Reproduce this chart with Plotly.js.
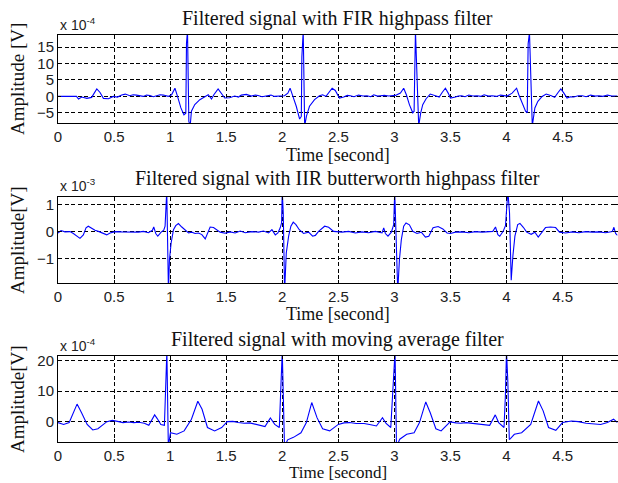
<!DOCTYPE html>
<html>
<head>
<meta charset="utf-8">
<script src="https://cdn.plot.ly/plotly-3.0.1.min.js"></script>
<style>html,body{margin:0;padding:0;background:#fff;}#chart{width:618px;height:483px;}</style>
</head>
<body>
<div id="chart"></div>
<script>
// ---- Data ----
// Time axis ticks
var timeTicks = [0, 0.5, 1, 1.5, 2, 2.5, 3, 3.5, 4, 4.5];
var timeTickText = ["0", "0.5", "1", "1.5", "2", "2.5", "3", "3.5", "4", "4.5"];

// Panel 1: FIR highpass filter (values in units of 1e-4 V)
var firT = [0,0.165,0.183,0.212,0.257,0.3,0.346,0.375,0.405,0.45,0.494,0.53,0.568,0.6,0.64,0.67,0.7,0.73,0.76,0.79,0.82,0.85,0.88,0.91,0.94,0.983,1.013,1.043,1.066,1.096,1.123,1.14,1.146,1.155,1.167,1.179,1.19,1.22,1.265,1.31,1.34,1.369,1.39,1.428,1.458,1.487,1.53,1.576,1.61,1.635,1.68,1.724,1.76,1.784,1.82,1.843,1.87,1.9,1.93,1.96,2.02,2.05,2.07,2.095,2.125,2.155,2.17,2.175,2.187,2.2,2.216,2.243,2.288,2.332,2.36,2.39,2.42,2.445,2.473,2.51,2.548,2.58,2.607,2.64,2.68,2.72,2.756,2.79,2.816,2.85,2.875,2.91,2.95,3.009,3.054,3.083,3.107,3.134,3.164,3.176,3.188,3.217,3.235,3.253,3.283,3.32,3.366,3.4,3.426,3.455,3.48,3.5,3.545,3.57,3.6,3.63,3.664,3.7,3.738,3.77,3.8,3.84,3.872,3.91,3.946,4.006,4.05,4.09,4.11,4.14,4.17,4.185,4.193,4.205,4.23,4.253,4.28,4.318,4.354,4.4,4.43,4.46,4.485,4.512,4.54,4.57,4.6,4.64,4.676,4.71,4.75,4.79,4.824,4.86,4.9,4.94,4.973,4.99];
var firV = [0,0,-0.8,-0.2,-0.6,-0.3,2.3,1.2,-0.6,-0.7,0,-0.2,0.4,0.7,0.2,0.5,0.4,0.1,0,0.4,0.3,-0.1,0.1,0.5,0.4,0,0.5,2.5,0,-3.5,-5.6,-5.1,16.2,20,-7.6,-9,-4.5,-2.5,-1,0,0.5,-0.8,0.5,2.3,1,-0.5,-0.4,0.1,-0.2,0.4,0.6,0.1,0.4,0.3,-0.1,0,0.3,0.4,0,0.1,0.2,1,2.5,0,-3,-6.9,-6.1,12,20,-9,-6,-3,-1,0.2,0.5,0,1.2,2.5,1.8,-0.5,-0.2,0.3,0.2,-0.1,0.4,0.1,0.2,-0.1,0.5,0.1,0.2,0.3,0.1,0.3,1,2.5,0.5,-2.5,-5,-4.5,20,-9,-5,-2.5,-0.7,0.7,0.2,-0.2,1.2,2.5,1,-0.5,-0.2,0.1,0.2,-0.1,0.4,0.1,0.2,0,0.5,0.1,0.2,0,0.4,0.1,1,2.5,0.5,-2,-4.5,-5,16,19.5,-9,-3.5,-1.5,0,0.7,0.2,-0.3,1.2,2.3,1,-0.5,-0.1,-0.2,0.2,0.2,-0.1,0.4,0.1,0.2,0,0.4,0.1,0.2,0.1];

// Panel 2: IIR butterworth highpass filter (values in units of 1e-3 V)
var iirT = [0,0.027,0.062,0.107,0.137,0.167,0.196,0.226,0.25,0.27,0.3,0.33,0.366,0.405,0.435,0.464,0.509,0.568,0.658,0.717,0.762,0.806,0.842,0.854,0.872,0.89,0.92,0.943,0.955,0.961,0.97,0.985,0.994,1.009,1.03,1.05,1.074,1.104,1.134,1.164,1.193,1.223,1.253,1.283,1.313,1.336,1.357,1.387,1.417,1.446,1.491,1.536,1.58,1.625,1.67,1.729,1.789,1.833,1.878,1.908,1.938,1.961,1.982,1.994,2.0,2.009,2.021,2.036,2.057,2.077,2.098,2.122,2.152,2.19,2.235,2.271,2.295,2.324,2.378,2.414,2.458,2.503,2.533,2.592,2.652,2.71,2.77,2.83,2.89,2.905,2.92,2.943,2.973,2.994,3.003,3.03,3.045,3.062,3.083,3.104,3.134,3.164,3.202,3.24,3.277,3.307,3.345,3.39,3.432,3.47,3.5,3.545,3.604,3.664,3.723,3.783,3.842,3.878,3.902,3.923,3.94,3.97,3.991,4.003,4.012,4.027,4.042,4.057,4.075,4.1,4.12,4.15,4.18,4.22,4.253,4.283,4.313,4.348,4.393,4.438,4.473,4.527,4.586,4.646,4.705,4.765,4.824,4.884,4.943,4.958,4.973,4.99];
var iirV = [-0.05,0.04,-0.01,0,-0.07,-0.15,-0.25,-0.12,0.14,0.2,0.11,0.05,0,-0.07,-0.12,-0.05,0,-0.01,-0.01,-0.02,0.01,-0.04,0.05,0.17,-0.07,-0.17,-0.02,0.05,0.2,1.06,1.5,-2.2,-1.04,-0.42,0.07,0.22,0.3,0.17,0.05,-0.05,-0.02,-0.07,-0.05,-0.11,-0.27,-0.02,0.17,0.15,0.05,-0.02,-0.06,-0.01,-0.05,0.02,-0.04,0,-0.02,0.02,-0.05,0.07,-0.12,-0.05,0.14,0.32,1.5,0.7,-2.2,-0.79,-0.17,0.2,0.35,0.26,0.07,-0.07,-0.02,-0.17,-0.14,0.01,0.2,0.16,0.01,-0.02,-0.02,0.01,-0.05,-0.01,-0.04,0.01,-0.05,0.14,-0.07,-0.17,-0.02,0.26,1.5,-2.2,-1.04,-0.3,0.2,0.32,0.25,0.01,-0.07,-0.02,-0.2,-0.17,0.14,0.19,0.1,-0.05,-0.07,-0.02,-0.01,-0.04,0,-0.02,0,0.01,0.17,-0.11,-0.17,0.01,0.22,1.06,1.5,0.7,-1.8,-0.9,-0.17,0.26,0.3,0.16,-0.02,-0.1,-0.02,-0.2,-0.05,0.15,0.17,0.15,-0.02,-0.05,-0.01,-0.04,0,-0.02,-0.01,-0.04,0,0.16,-0.07,-0.14];

// Panel 3: moving average filter (values in units of 1e-4 V)
var maT = [0,0.05,0.1,0.17,0.21,0.26,0.31,0.356,0.436,0.484,0.53,0.58,0.63,0.676,0.72,0.77,0.81,0.862,0.885,0.917,0.949,0.958,0.971,0.984,1.003,1.06,1.125,1.19,1.247,1.285,1.333,1.397,1.46,1.51,1.56,1.606,1.66,1.71,1.766,1.846,1.894,1.933,1.974,1.984,2.0,2.02,2.048,2.1,2.167,2.215,2.263,2.31,2.36,2.423,2.5,2.55,2.6,2.66,2.73,2.79,2.84,2.894,2.926,2.968,2.99,3.006,3.019,3.048,3.11,3.176,3.224,3.28,3.32,3.37,3.417,3.497,3.55,3.593,3.64,3.69,3.77,3.85,3.9,3.93,3.978,3.99,4.0,4.012,4.025,4.035,4.07,4.135,4.216,4.285,4.327,4.375,4.44,4.5,4.58,4.64,4.71,4.78,4.84,4.9,4.955,4.99];
var maV = [-0.2,-0.8,-0.2,5.8,3,-0.8,-2.6,-2.2,0.1,0.5,0.2,-0.2,0,-0.2,-0.1,-0.4,-1.1,2.3,1.1,-0.8,-1.1,12.6,23,-8,-3.5,-4,-2.9,0.9,6.7,4.1,-1.8,-2.9,-1.8,0.1,0.2,-0.2,-0.4,-0.3,-0.8,-1.5,1.3,-0.8,-1.8,5.8,23,-8,-5.8,-5,-3.5,-0.2,6.3,1.4,-2.2,-2.9,-0.8,-0.3,-0.2,-0.5,-0.5,-0.9,-1.3,1.4,-0.5,-1.8,11.7,23,-8,-5.6,-4,-3.5,-0.2,6.5,3,-2.2,-2.9,0,-0.3,-0.4,-0.2,-0.4,-0.7,-1.1,2.3,-0.2,-1.8,8.4,23,13,-5.7,-5.4,-4,-3.5,-0.8,6.8,3.6,-1.8,-2.7,-0.2,0.3,0.1,-0.4,-0.5,-0.8,-0.2,0.9,-0.2];

var titles = ["Filtered signal with FIR highpass filter",
              "Filtered signal with IIR butterworth highpass filter",
              "Filtered signal with moving average filter"];
var yTitles = ["Amplitude [V]", "Amplitude[V]", "Amplitude[V]"];
var xTitle = "Time [second]";
var exponents = ["-4", "-3", "-4"];
var yTicks = [[-5, 0, 5, 10, 15], [-1, 0, 1], [0, 10, 20]];
var yRanges = [[-8.1, 18.7], [-1.9, 1.28], [-6.5, 21.4]];

// ---- Layout geometry (pixels from top of a 618x483 page) ----
var W = 618, H = 483;
var plotLeft = 58, plotRight = 617.5;
var panelTop = [35, 197, 356];
var panelBottom = [123, 283, 442];
var titleY = [18.5, 178.5, 339];
var xTitleY = [155, 314, 472.5];
var xTitleSize = [18, 18, 17];
var expoY = [24, 184.5, 344.5];

var serif = "Liberation Serif, Times New Roman, serif";
var sans = "Liberation Sans, Arial, sans-serif";

var series = [[firT, firV], [iirT, iirV], [maT, maV]];
var traces = [];
var layout = {
  width: W, height: H,
  margin: {l: 0, r: 0, t: 0, b: 0, pad: 0},
  paper_bgcolor: "#ffffff", plot_bgcolor: "#ffffff",
  showlegend: false,
  annotations: []
};

for (var i = 0; i < 3; i++) {
  var sfx = i === 0 ? "" : String(i + 1);
  traces.push({
    x: series[i][0], y: series[i][1],
    type: "scatter", mode: "lines",
    line: {color: "#0000ff", width: 1.1},
    xaxis: "x" + sfx, yaxis: "y" + sfx,
    hoverinfo: "skip"
  });
  var common = {
    showline: true, mirror: "ticks", linecolor: "#000", linewidth: 1,
    ticks: "inside", ticklen: 3, tickcolor: "#000",
    showgrid: true, gridcolor: "#000", gridwidth: 1, griddash: "4px,2.5px",
    zeroline: false, automargin: false,
    tickfont: {family: sans, size: 15, color: "#222"}
  };
  var xa = Object.assign({}, common, {
    domain: [plotLeft / W, plotRight / W],
    range: [0, 4.99],
    tickmode: "array", tickvals: timeTicks, ticktext: timeTickText,
    anchor: "y" + sfx
  });
  var ya = Object.assign({}, common, {
    domain: [1 - panelBottom[i] / H, 1 - panelTop[i] / H],
    range: yRanges[i],
    tickmode: "array", tickvals: yTicks[i],
    anchor: "x" + sfx
  });
  layout["xaxis" + sfx] = xa;
  layout["yaxis" + sfx] = ya;

  // panel title
  layout.annotations.push({
    xref: "paper", yref: "paper", x: (plotLeft + plotRight) / 2 / W, y: 1 - titleY[i] / H,
    xanchor: "center", yanchor: "middle", showarrow: false,
    text: titles[i], font: {family: serif, size: 20, color: "#111"}
  });
  // x axis title
  layout.annotations.push({
    xref: "paper", yref: "paper", x: (plotLeft + plotRight) / 2 / W, y: 1 - xTitleY[i] / H,
    xanchor: "center", yanchor: "middle", showarrow: false,
    text: xTitle, font: {family: serif, size: xTitleSize[i], color: "#111"}
  });
  // y axis title
  layout.annotations.push({
    xref: "paper", yref: "paper", x: 17 / W, y: 1 - (panelTop[i] + panelBottom[i]) / 2 / H,
    xanchor: "center", yanchor: "middle", showarrow: false, textangle: -90,
    text: yTitles[i], font: {family: serif, size: 19, color: "#111"}
  });
  // exponent label
  layout.annotations.push({
    xref: "paper", yref: "paper", x: plotLeft / W, y: 1 - expoY[i] / H,
    xanchor: "left", yanchor: "middle", showarrow: false,
    text: "x 10<sup>" + exponents[i] + "</sup>", font: {family: sans, size: 14, color: "#222"}
  });
}

Plotly.newPlot("chart", traces, layout, {staticPlot: true, displayModeBar: false});
</script>
</body>
</html>
